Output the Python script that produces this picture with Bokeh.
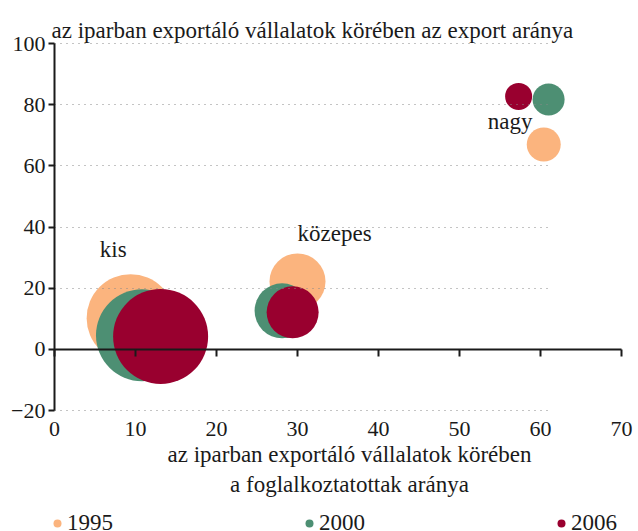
from bokeh.plotting import figure
from bokeh.models import Range1d, FixedTicker, LinearAxis, Legend, LegendItem, Label
from bokeh.core.properties import value
from bokeh.embed import file_html
from bokeh.resources import INLINE

FONT = "Liberation Serif"
TXT = "#1a1a1a"
FS = "22px"
FS_L = "23px"

# data: x = employment share (%), y = export share (%), bubble = bubble radius value
categories = ["kis", "közepes", "nagy"]
years = ["1995", "2000", "2006"]
emp_1995 = [9.4, 30.0, 60.4]
exp_1995 = [10.2, 22.2, 67.0]
bub_1995 = [44, 28, 17]
emp_2000 = [10.8, 28.1, 61.0]
exp_2000 = [4.6, 12.6, 81.7]
bub_2000 = [46, 27.5, 16]
emp_2006 = [13.1, 29.4, 57.3]
exp_2006 = [4.2, 12.1, 82.7]
bub_2006 = [47.5, 26, 13.5]
label_x = [5.6, 30.0, 53.5]
label_y = [32.5, 38.0, 74.5]
x_ticks = [0, 10, 20, 30, 40, 50, 60, 70]
y_ticks = [-20, 0, 20, 40, 60, 80, 100]
grid_ticks = [-20, 20, 40, 60, 80, 100]
colors = ["#FBB47E", "#4D8F73", "#99002F"]
y_title = "az iparban exportáló vállalatok körében az export aránya"
x_title = ["az iparban exportáló vállalatok körében", "a foglalkoztatottak aránya"]

X_MIN, X_MAX = 0, 70
Y_MIN, Y_MAX = -20, 100
W, H = 638, 531
LEFT, RIGHT, TOP, BOTTOM = 54, 17, 43, 121   # plot box margins in px
px_x = (W - LEFT - RIGHT) / (X_MAX - X_MIN)
px_y = (H - TOP - BOTTOM) / (Y_MAX - Y_MIN)

p = figure(frame_width=W, frame_height=H,
           x_range=Range1d(X_MIN - LEFT / px_x, X_MAX + RIGHT / px_x),
           y_range=Range1d(Y_MIN - BOTTOM / px_y, Y_MAX + TOP / px_y),
           output_backend="svg", toolbar_location=None,
           x_axis_location=None, y_axis_location=None,
           min_border_left=0, min_border_right=0, min_border_top=0,
           min_border_bottom=0)
p.outline_line_color = None
p.xgrid.visible = False
p.ygrid.visible = False

p.add_layout(Label(x=X_MIN, y=Y_MAX, x_offset=-3, y_offset=13, text=y_title,
                   text_font=FONT, text_font_size=FS_L, text_color=TXT,
                   text_baseline="alphabetic", text_align="left"))

# dotted horizontal grid lines (drawn as long inward ticks)
ga = LinearAxis(fixed_location=X_MIN, ticker=FixedTicker(ticks=grid_ticks))
ga.axis_line_color = None
ga.major_label_text_color = None
ga.minor_tick_line_color = None
ga.major_tick_out = 0
ga.major_tick_in = int(61.5 * px_x)
ga.major_tick_line_color = "#888888"
ga.major_tick_line_width = 1
ga.major_tick_line_dash = "1 5"
p.add_layout(ga, "left")

# y axis
ya = LinearAxis(fixed_location=X_MIN, ticker=FixedTicker(ticks=y_ticks))
ya.bounds = (Y_MIN, Y_MAX)
ya.major_label_overrides = {-20: "\u221220"}
ya.axis_line_width = 2
ya.axis_line_color = TXT
ya.major_tick_out = 6
ya.major_tick_in = 0
ya.major_tick_line_width = 2
ya.major_tick_line_color = TXT
ya.minor_tick_line_color = None
ya.major_label_text_font = FONT
ya.major_label_text_font_size = FS
ya.major_label_text_color = TXT
ya.major_label_standoff = 3
p.add_layout(ya, "left")

# x tick labels and title under the y = -20 line
xa = LinearAxis(fixed_location=Y_MIN, ticker=FixedTicker(ticks=x_ticks))
xa.bounds = (X_MIN, X_MAX)
xa.axis_line_color = None
xa.major_tick_line_color = None
xa.minor_tick_line_color = None
xa.major_label_text_font = FONT
xa.major_label_text_font_size = FS
xa.major_label_text_color = TXT
xa.major_label_standoff = 5
pad = "\u00a0\u00a0\u00a0\u00a0"
xa.axis_label = pad + x_title[0] + "\n" + pad + x_title[1]
xa.axis_label_text_font = FONT
xa.axis_label_text_font_size = FS_L
xa.axis_label_text_font_style = "normal"
xa.axis_label_text_color = TXT
xa.axis_label_standoff = 3
p.add_layout(xa, "below")

# x axis line at y = 0
zax = LinearAxis(fixed_location=0, ticker=FixedTicker(ticks=x_ticks))
zax.bounds = (X_MIN, X_MAX)
zax.axis_line_width = 2
zax.axis_line_color = TXT
zax.major_tick_out = 7
zax.major_tick_in = 0
zax.major_tick_line_width = 2
zax.major_tick_line_color = TXT
zax.minor_tick_line_color = None
zax.major_label_text_color = None
p.add_layout(zax, "below")

rs = []
for xs, ys, bs, c in [(emp_1995, exp_1995, bub_1995, colors[0]),
                      (emp_2000, exp_2000, bub_2000, colors[1]),
                      (emp_2006, exp_2006, bub_2006, colors[2])]:
    r = p.scatter(x=xs, y=ys, size=[2 * b for b in bs], fill_color=c,
                  line_color=None)
    rs.append(r)

p.text(x=label_x, y=label_y, text=categories, text_font=value(FONT),
       text_font_size=FS_L, text_baseline="middle", text_align="left",
       text_color=TXT)

legend = Legend(items=[LegendItem(label=y, renderers=[r]) for y, r in zip(years, rs)],
                orientation="horizontal", location=(LEFT - 7, -5),
                label_width=230, glyph_width=20, glyph_height=20, spacing=2,
                border_line_color=None, background_fill_alpha=0,
                padding=0, margin=0, label_standoff=0,
                label_text_font=FONT, label_text_font_size=FS_L,
                label_text_color=TXT)
p.add_layout(legend, "center")

open("out.html", "w").write(file_html(p, INLINE))
